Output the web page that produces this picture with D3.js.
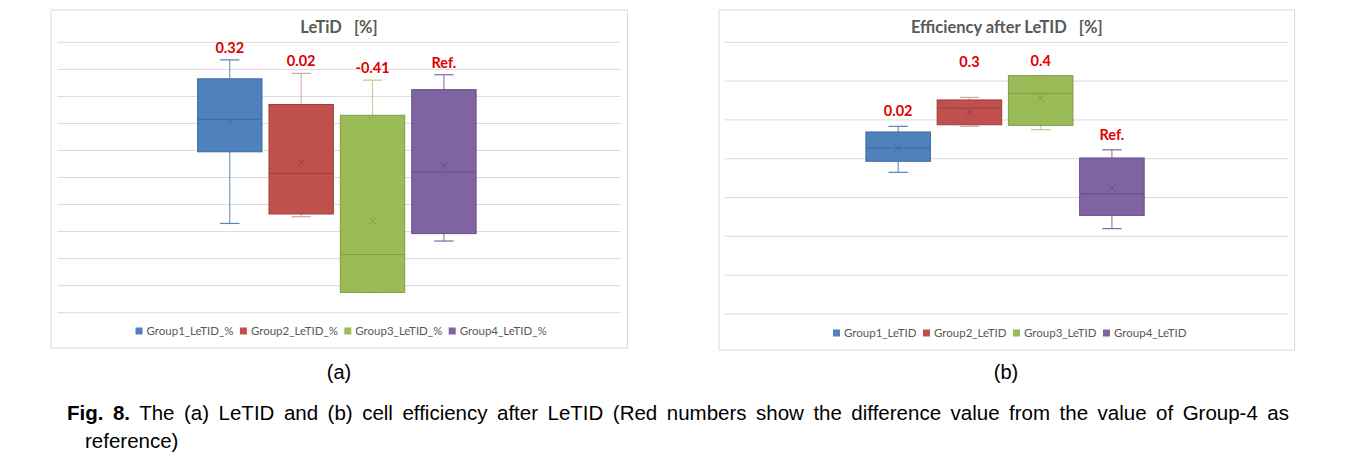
<!DOCTYPE html>
<html>
<head>
<meta charset="utf-8">
<script src="https://cdn.jsdelivr.net/npm/d3@7"></script>
<style>
  body { margin: 0; background: #fff; }
  svg { display: block; }
</style>
</head>
<body>
<svg id="fig" width="1354" height="462"></svg>
<script>
// (a) LeTID [%] — box statistics per group
const letidGroups = ['Group1_LeTID_%', 'Group2_LeTID_%', 'Group3_LeTID_%', 'Group4_LeTID_%'];
const letidMin    = [1.66, 1.71, 1.15, 1.53];
const letidQ1     = [2.19, 1.73, 1.15, 1.585];
const letidMedian = [2.43, 2.03, 1.43, 2.04];
const letidMean   = [2.41, 2.11, 1.68, 2.09];
const letidQ3     = [2.73, 2.54, 2.46, 2.65];
const letidMax    = [2.87, 2.77, 2.72, 2.76];
const letidDiff   = ['0.32', '0.02', '-0.41', 'Ref.'];
const letidGrid   = [1.0, 1.2, 1.4, 1.6, 1.8, 2.0, 2.2, 2.4, 2.6, 2.8, 3.0];

// (b) Efficiency after LeTID [%]
const effGroups = ['Group1_LeTID', 'Group2_LeTID', 'Group3_LeTID', 'Group4_LeTID'];
const effMin     = [22.13, 22.367, 22.35, 21.84];
const effQ1      = [22.187, 22.375, 22.372, 21.908];
const effMedian  = [22.255, 22.46, 22.537, 22.02];
const effMean    = [22.257, 22.441, 22.513, 22.049];
const effQ3      = [22.338, 22.503, 22.628, 22.204];
const effMax     = [22.367, 22.516, 22.628, 22.246];
const effDiff    = ['0.02', '0.3', '0.4', 'Ref.'];
const effLabelAt = [22.367, 22.62, 22.628, 22.246];
const effGrid    = [21.4, 21.6, 21.8, 22.0, 22.2, 22.4, 22.6, 22.8];

const colours = ['#4f81bd', '#c0504d', '#9bbb59', '#8064a2'];
const edge    = ['#3d6a9e', '#9e3f3c', '#7f9c45', '#65508a'];
const whisk   = ['#5a82b5', '#d9a3a2', '#b9cc8f', '#7c6b9c'];

const svg = d3.select('#fig');

const boxChart = (parent, props) => {
  const { frame, plotX, plotY, boxRange, pad, domain, grid, title,
          groups, mins, q1, med, mean, q3, maxs, diff, labelAt, labelOff,
          legendX, legendStep } = props;

  const g = parent.append('g');

  g.append('rect')
    .attr('x', frame[0]).attr('y', frame[1])
    .attr('width', frame[2]).attr('height', frame[3])
    .attr('fill', '#fff').attr('stroke', '#d9d9d9').attr('stroke-width', 1);

  const y = d3.scaleLinear().domain(domain).range(plotY);
  const x = d3.scaleBand().domain(groups).range(boxRange).paddingInner(pad).paddingOuter(0);
  const bw = x.bandwidth();

  // gridlines (no tick labels shown in the original)
  g.selectAll('.grid').data(grid).join('line')
    .attr('class', 'grid')
    .attr('x1', plotX[0]).attr('x2', plotX[1])
    .attr('y1', d => y(d)).attr('y2', d => y(d))
    .attr('stroke', '#d9d9d9').attr('stroke-width', 1);

  g.append('text')
    .attr('x', (plotX[0] + plotX[1]) / 2).attr('y', frame[1] + 23)
    .attr('text-anchor', 'middle')
    .attr('font-family', 'Lato, sans-serif').attr('font-weight', 'bold')
    .attr('font-size', 16.5).attr('fill', '#595959')
    .attr('xml:space', 'preserve')
    .text(title);

  const boxes = g.selectAll('.box').data(groups).join('g')
    .attr('class', 'box')
    .attr('transform', d => `translate(${x(d)},0)`);

  // whiskers
  boxes.append('line')
    .attr('x1', bw / 2).attr('x2', bw / 2)
    .attr('y1', (d, i) => y(maxs[i])).attr('y2', (d, i) => y(q3[i]))
    .attr('stroke', (d, i) => whisk[i]);
  boxes.append('line')
    .attr('x1', bw / 2).attr('x2', bw / 2)
    .attr('y1', (d, i) => y(q1[i])).attr('y2', (d, i) => y(mins[i]))
    .attr('stroke', (d, i) => whisk[i]);
  boxes.append('line')
    .attr('x1', bw * 0.35).attr('x2', bw * 0.65)
    .attr('y1', (d, i) => y(maxs[i])).attr('y2', (d, i) => y(maxs[i]))
    .attr('stroke', (d, i) => whisk[i]).attr('stroke-width', 1.2);
  boxes.append('line')
    .attr('x1', bw * 0.35).attr('x2', bw * 0.65)
    .attr('y1', (d, i) => y(mins[i])).attr('y2', (d, i) => y(mins[i]))
    .attr('stroke', (d, i) => whisk[i]).attr('stroke-width', 1.2);

  // box
  boxes.append('rect')
    .attr('x', 0).attr('width', bw)
    .attr('y', (d, i) => y(q3[i]))
    .attr('height', (d, i) => y(q1[i]) - y(q3[i]))
    .attr('fill', (d, i) => colours[i])
    .attr('stroke', (d, i) => edge[i]).attr('stroke-width', 1);

  // median
  boxes.append('line')
    .attr('x1', 0).attr('x2', bw)
    .attr('y1', (d, i) => y(med[i])).attr('y2', (d, i) => y(med[i]))
    .attr('stroke', (d, i) => edge[i]).attr('stroke-width', 1);

  // mean marker (x)
  const m = 3.5;
  boxes.append('path')
    .attr('d', (d, i) => {
      const cy = y(mean[i]), cx = bw / 2;
      return `M${cx - m},${cy - m}L${cx + m},${cy + m}M${cx - m},${cy + m}L${cx + m},${cy - m}`;
    })
    .attr('stroke', (d, i) => edge[i]).attr('stroke-width', 1).attr('fill', 'none');

  // red difference labels
  boxes.append('text')
    .attr('x', bw / 2)
    .attr('y', (d, i) => y(labelAt[i]) - labelOff)
    .attr('text-anchor', 'middle')
    .attr('font-family', 'Lato, sans-serif').attr('font-weight', 'bold')
    .attr('font-size', 14.5).attr('fill', '#e00000')
    .text((d, i) => diff[i]);

  // legend
  const legY = frame[1] + frame[3] - 17;
  const leg = g.selectAll('.leg').data(groups).join('g')
    .attr('class', 'leg')
    .attr('transform', (d, i) => `translate(${legendX + i * legendStep},${legY})`);
  leg.append('rect')
    .attr('x', 0).attr('y', -3.5).attr('width', 7).attr('height', 7)
    .attr('fill', (d, i) => colours[i]);
  leg.append('text')
    .attr('x', 11).attr('y', 4)
    .attr('font-family', 'Lato, sans-serif').attr('font-size', 11.5)
    .attr('fill', '#595959')
    .text(d => d);
};

boxChart(svg, {
  frame: [51, 10, 576.4, 338], plotX: [57.4, 620.7], plotY: [312.7, 42.3],
  boxRange: [197.6, 476.1], pad: 0.098, domain: [1.0, 3.0], grid: letidGrid,
  title: 'LeTiD   [%]',
  groups: letidGroups, mins: letidMin, q1: letidQ1, med: letidMedian, mean: letidMean,
  q3: letidQ3, maxs: letidMax, diff: letidDiff, labelAt: letidMax, labelOff: 7,
  legendX: 135.5, legendStep: 104.4
});

boxChart(svg, {
  frame: [719, 10, 575.6, 340], plotX: [724.9, 1288.7], plotY: [314, 42.3],
  boxRange: [865.9, 1144.2], pad: 0.094, domain: [21.4, 22.8], grid: effGrid,
  title: 'Efficiency after LeTID   [%]',
  groups: effGroups, mins: effMin, q1: effQ1, med: effMedian, mean: effMean,
  q3: effQ3, maxs: effMax, diff: effDiff, labelAt: effLabelAt, labelOff: 10,
  legendX: 833, legendStep: 90
});

// sub-figure labels and caption
const cap = svg.append('g')
  .attr('font-family', '"Liberation Sans", Arial, sans-serif').attr('fill', '#000');
cap.append('text').attr('x', 339).attr('y', 379).attr('text-anchor', 'middle')
  .attr('font-size', 20).text('(a)');
cap.append('text').attr('x', 1006).attr('y', 379).attr('text-anchor', 'middle')
  .attr('font-size', 20).text('(b)');

const capSize = 20.5;
const line1 = cap.append('text').attr('x', 67).attr('y', 420).attr('font-size', capSize);
line1.append('tspan').attr('font-weight', 'bold').text('Fig. 8.');
line1.append('tspan').text(' The (a) LeTID and (b) cell efficiency after LeTID (Red numbers show the difference value from the value of Group-4 as');
// justify the first line to the right margin
const target = 1289 - 67;
const natural = line1.node().getComputedTextLength();
const gaps = (line1.text().match(/ /g) || []).length;
if (natural < target && gaps > 0) {
  line1.attr('word-spacing', (target - natural) / gaps);
} else if (natural > target) {
  line1.attr('textLength', target).attr('lengthAdjust', 'spacingAndGlyphs');
}

cap.append('text').attr('x', 85).attr('y', 448).attr('font-size', capSize).text('reference)');
</script>
</body>
</html>
